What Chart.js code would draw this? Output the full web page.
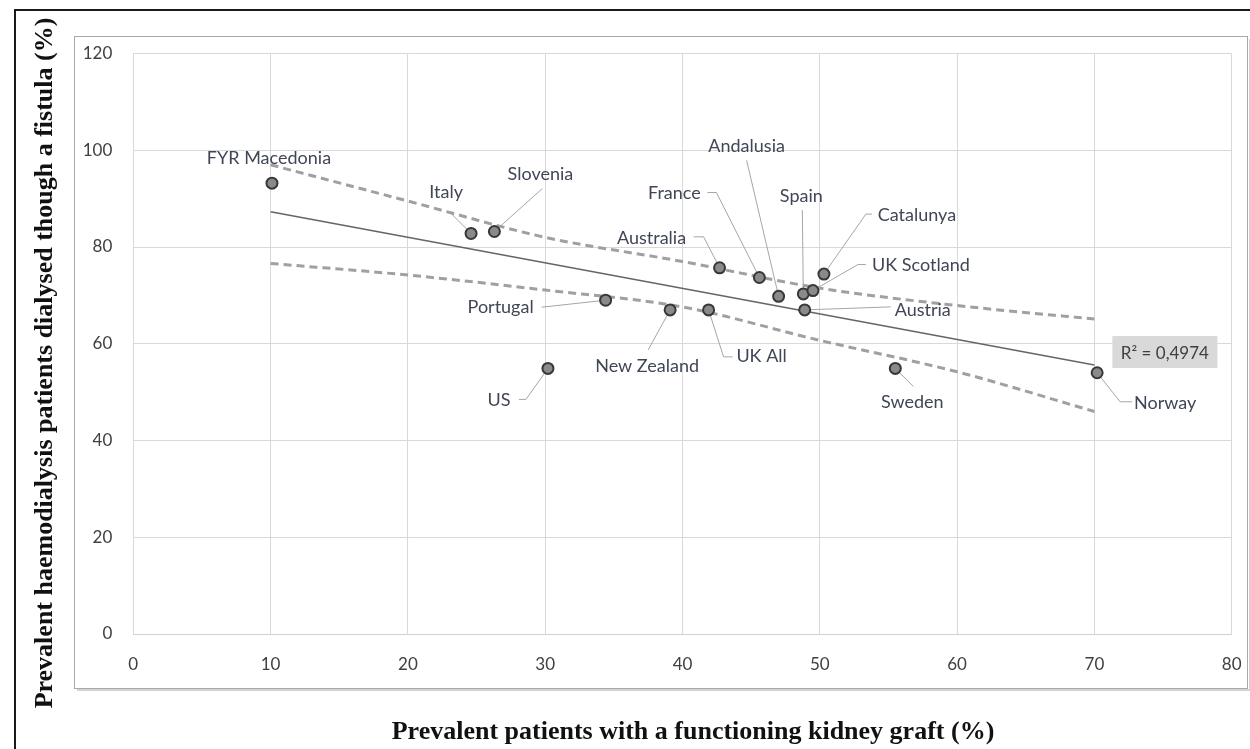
<!DOCTYPE html>
<html>
<head>
<meta charset="utf-8">
<script src="https://cdn.jsdelivr.net/npm/chart.js@4"></script>
<style>
  html, body { margin: 0; padding: 0; background: #ffffff; }
  #wrap { width: 1250px; height: 749px; position: relative; }
</style>
</head>
<body>
<div id="wrap"><canvas id="c" width="1250" height="749"></canvas></div>
<script>
// ---- Data ----
const countries = ['FYR Macedonia','Italy','Slovenia','Australia','France','Andalusia','Spain','Catalunya','UK Scotland','Austria','Portugal','New Zealand','UK All','US','Sweden','Norway'];
const kidneyGraftPct = [10.1, 24.6, 26.3, 42.7, 45.6, 47.0, 48.8, 50.3, 49.5, 48.9, 34.4, 39.1, 41.9, 30.2, 55.5, 70.2];
const fistulaPct = [93.2, 82.8, 83.2, 75.7, 73.7, 69.8, 70.3, 74.4, 71.0, 67.0, 69.0, 67.0, 67.0, 54.9, 54.9, 54.0];
const trendX = [10, 70];
const trendY = [87.3, 55.6];
const bandX = [10, 20, 30, 40, 50, 60, 70];
const upperBand = [97.0, 89.5, 82.0, 77.0, 71.5, 67.9, 65.1];
const lowerBand = [76.6, 74.2, 71.1, 67.6, 60.7, 54.2, 46.0];
const xTickValues = [0, 10, 20, 30, 40, 50, 60, 70, 80];
const yTickValues = [0, 20, 40, 60, 80, 100, 120];
const r2Text = 'R\u00B2 = 0,4974';
const xTitle = 'Prevalent patients with a functioning kidney graft (%)';
const yTitle = 'Prevalent haemodialysis patients dialysed though a fistula (%)';

// ---- Label layout (pixel offsets from each point) ----
const labelLayout = {
  'FYR Macedonia': { t: [-3, -25], lead: [] },
  'Italy':         { t: [-25, -41], lead: [[-22, -22]] },
  'Slovenia':      { t: [46, -57], lead: [[48, -43]] },
  'Australia':     { t: [-68, -30], lead: [[-26, -31], [-16, -31]] },
  'France':        { t: [-85, -84], lead: [[-52, -85], [-43, -85]] },
  'Andalusia':     { t: [-32, -150], lead: [[-32, -136]] },
  'Spain':         { t: [-2, -98], lead: [[-1, -84]] },
  'Catalunya':     { t: [93, -59], lead: [[48, -60], [42, -60]] },
  'UK Scotland':   { t: [108, -25], lead: [[53, -26], [45, -26]] },
  'Austria':       { t: [118, 0], lead: [[86, -3]] },
  'Portugal':      { t: [-105, 7], lead: [[-64, 7]] },
  'New Zealand':   { t: [-23, 56], lead: [[-22, 40]] },
  'UK All':        { t: [53, 46], lead: [[24, 47], [15, 47]] },
  'US':            { t: [-49, 32], lead: [[-29, 31], [-22, 31]] },
  'Sweden':        { t: [17, 34], lead: [[18, 18]] },
  'Norway':        { t: [68, 30], lead: [[35, 29], [23, 29]] }
};

const LABEL_FONT = '18px Lato';
const LABEL_COLOR = '#404656';

const pointData = kidneyGraftPct.map((x, i) => ({ x: x, y: fistulaPct[i] }));
const trendData = trendX.map((x, i) => ({ x: x, y: trendY[i] }));
const upperData = bandX.map((x, i) => ({ x: x, y: upperBand[i] }));
const lowerData = bandX.map((x, i) => ({ x: x, y: lowerBand[i] }));

const framePlugin = {
  id: 'frame',
  beforeDraw(chart) {
    const ctx = chart.ctx;
    ctx.save();
    ctx.fillStyle = '#ffffff';
    ctx.fillRect(0, 0, chart.width, chart.height);
    // outer black frame
    ctx.strokeStyle = '#1a1a1a';
    ctx.lineWidth = 2;
    ctx.beginPath();
    ctx.moveTo(15, 749);
    ctx.lineTo(15, 10);
    ctx.lineTo(1250, 10);
    ctx.stroke();
    // inner chart box with shadow
    ctx.strokeStyle = '#d4d4d4';
    ctx.lineWidth = 2;
    ctx.beginPath();
    ctx.moveTo(77, 690);
    ctx.lineTo(1250, 690);
    ctx.moveTo(1250, 39);
    ctx.lineTo(1250, 690);
    ctx.stroke();
    ctx.strokeStyle = '#a8a8a8';
    ctx.lineWidth = 1;
    ctx.strokeRect(74.5, 36.5, 1173, 652);
    ctx.restore();
  },
  afterDraw(chart) {
    const ctx = chart.ctx;
    ctx.save();
    ctx.fillStyle = '#111111';
    ctx.font = 'bold 26px "Liberation Serif"';
    ctx.textAlign = 'center';
    ctx.textBaseline = 'middle';
    ctx.fillText(xTitle, 693, 732);
    ctx.translate(45, 363);
    ctx.rotate(-Math.PI / 2);
    ctx.fillText(yTitle, 0, 0);
    ctx.restore();
  }
};

const labelPlugin = {
  id: 'labels',
  beforeDatasetsDraw(chart) {
    const ctx = chart.ctx;
    const meta = chart.getDatasetMeta(0);
    ctx.save();
    ctx.strokeStyle = '#a6a6a6';
    ctx.lineWidth = 1;
    meta.data.forEach((el, i) => {
      const lay = labelLayout[countries[i]];
      if (!lay || !lay.lead.length) return;
      ctx.beginPath();
      ctx.moveTo(el.x + lay.lead[0][0], el.y + lay.lead[0][1]);
      for (let k = 1; k < lay.lead.length; k++) ctx.lineTo(el.x + lay.lead[k][0], el.y + lay.lead[k][1]);
      ctx.lineTo(el.x, el.y);
      ctx.stroke();
    });
    ctx.restore();
  },
  afterDatasetsDraw(chart) {
    const ctx = chart.ctx;
    const meta = chart.getDatasetMeta(0);
    ctx.save();
    ctx.font = LABEL_FONT;
    ctx.fillStyle = LABEL_COLOR;
    ctx.textAlign = 'center';
    ctx.textBaseline = 'middle';
    meta.data.forEach((el, i) => {
      const lay = labelLayout[countries[i]];
      if (!lay) return;
      ctx.fillText(countries[i], el.x + lay.t[0], el.y + lay.t[1]);
    });
    // R² box near the end of the trend line
    const tMeta = chart.getDatasetMeta(1);
    const end = tMeta.data[tMeta.data.length - 1];
    const bx = end.x + 18, by = end.y - 29, bw = 105, bh = 32;
    ctx.fillStyle = '#d9d9d9';
    ctx.fillRect(bx, by, bw, bh);
    ctx.fillStyle = '#404040';
    ctx.font = '17px Lato';
    ctx.fillText(r2Text, bx + bw / 2, by + bh / 2 + 1);
    ctx.restore();
  }
};

new Chart(document.getElementById('c'), {
  type: 'scatter',
  data: {
    datasets: [
      {
        label: 'Countries',
        data: pointData,
        pointRadius: 5.5,
        pointBackgroundColor: '#8a8a8a',
        pointBorderColor: '#383838',
        pointBorderWidth: 2,
        showLine: false,
        order: 0
      },
      {
        label: 'Trend',
        data: trendData,
        showLine: true,
        borderColor: '#666666',
        borderWidth: 1.6,
        pointRadius: 0,
        order: 2
      },
      {
        label: 'Upper',
        data: upperData,
        showLine: true,
        borderColor: '#a0a0a0',
        borderWidth: 3,
        borderDash: [8, 5],
        cubicInterpolationMode: 'monotone',
        pointRadius: 0,
        order: 3
      },
      {
        label: 'Lower',
        data: lowerData,
        showLine: true,
        borderColor: '#a0a0a0',
        borderWidth: 3,
        borderDash: [8, 5],
        cubicInterpolationMode: 'monotone',
        pointRadius: 0,
        order: 3
      }
    ]
  },
  options: {
    responsive: false,
    animation: false,
    events: [],
    layout: { padding: { left: 73.3, top: 53.5, right: 18.3, bottom: 55 } },
    plugins: { legend: { display: false }, tooltip: { enabled: false } },
    scales: {
      x: {
        type: 'linear',
        min: 0, max: 80,
        afterFit(axis) { axis.height = 60; axis.paddingLeft = 0; axis.paddingRight = 0; },
        afterBuildTicks(axis) { axis.ticks = xTickValues.map(v => ({ value: v })); },
        grid: { color: '#d9d9d9', lineWidth: 1, drawTicks: false },
        border: { color: '#d0d0d0' },
        ticks: { padding: 20, color: '#404040', font: { family: 'Lato', size: 17 } }
      },
      y: {
        type: 'linear',
        min: 0, max: 120,
        afterFit(axis) { axis.width = 60; axis.paddingTop = 0; axis.paddingBottom = 0; },
        afterBuildTicks(axis) { axis.ticks = yTickValues.map(v => ({ value: v })); },
        grid: { color: '#d9d9d9', lineWidth: 1, drawTicks: false },
        border: { color: '#d9d9d9' },
        ticks: { padding: 21, color: '#404040', font: { family: 'Lato', size: 17 } }
      }
    }
  },
  plugins: [framePlugin, labelPlugin]
});
</script>
</body>
</html>
